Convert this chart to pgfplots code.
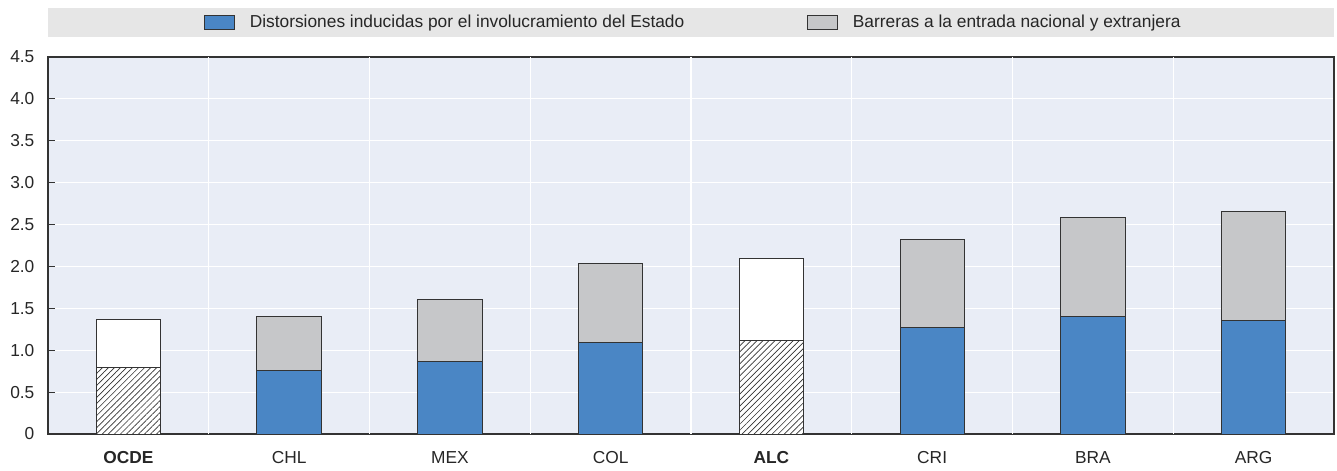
\documentclass[border=0pt]{standalone}
\usepackage{fontspec}
\setmainfont{Liberation Sans}
\usepackage{pgfplots}
\pgfplotsset{compat=1.18}
\usetikzlibrary{patterns,patterns.meta}
\definecolor{oblue}{HTML}{4A86C5}
\definecolor{ogray}{HTML}{C6C7C9}
\definecolor{bgcol}{HTML}{E9EDF6}
\definecolor{legbg}{HTML}{E6E6E6}
\definecolor{edge}{HTML}{333333}
\begin{document}
\begin{tikzpicture}
\begin{axis}[
  scale only axis,
  width=964.5pt, height=282.75pt,
  xmin=-0.5, xmax=7.5,
  ymin=0, ymax=4.5,
  clip=false,
  axis background/.style={fill=bgcol},
  axis line style={draw=edge, line width=1pt},
  xtick={0,1,2,3,4,5,6,7},
  xticklabels={\bfseries OCDE,CHL,MEX,COL,\bfseries ALC,CRI,BRA,ARG},
  x tick style={draw=none},
  extra x ticks={0.5,1.5,2.5,3.5,4.5,5.5,6.5},
  extra x tick labels={},
  extra x tick style={grid=major, major grid style={white, line width=0.9pt}, tick style={draw=edge, line width=0.8pt}, major tick length=5pt},
  xtick pos=bottom,
  ytick pos=left,
  tick align=inside,
  ytick={0,0.5,1,1.5,2,2.5,3,3.5,4,4.5},
  yticklabels={0,0.5,1.0,1.5,2.0,2.5,3.0,3.5,4.0,4.5},
  y tick style={draw=edge, line width=0.8pt},
  major tick length=5pt,
  ymajorgrids,
  major grid style={white, line width=0.9pt},
  tick label style={font=\fontsize{13}{15}\selectfont, text=black!85},
  yticklabel style={inner sep=0pt, anchor=east, xshift=-10pt},
  xticklabel style={inner sep=0pt, anchor=north, yshift=-13pt},
  legend style={draw=none, fill=none, at={(0.502,1.0915)}, anchor=center,
    font=\fontsize{13}{15}\selectfont, text=black!85,
    legend columns=2,
    /tikz/every even column/.append style={column sep=90pt}},
  legend image code/.code={\draw[#1] (0pt,-5.25pt) rectangle (22.5pt,5.25pt); \path[draw=none,fill=none] (0pt,0pt) -- (32pt,0pt);},
]
\fill[legbg] (rel axis cs:0,1.053) rectangle (rel axis cs:1,1.130);
\path (rel axis cs:-0.0373,-0.0955) rectangle (rel axis cs:1.0023,1.1512);
\addlegendimage{fill=oblue, draw=edge, line width=0.75pt}
\addlegendentry{Distorsiones inducidas por el involucramiento del Estado}
\addlegendimage{fill=ogray, draw=edge, line width=0.75pt}
\addlegendentry{Barreras a la entrada nacional y extranjera}
\addplot[ybar, bar width=0.4, bar shift=0, fill=ogray, draw=edge, line width=0.75pt, forget plot]
  coordinates {(1,1.40) (2,1.60) (3,2.04) (5,2.32) (6,2.58) (7,2.65)};
\addplot[ybar, bar width=0.4, bar shift=0, fill=white, draw=edge, line width=0.75pt, forget plot]
  coordinates {(0,1.37) (4,2.10)};
\addplot[ybar, bar width=0.4, bar shift=0, fill=oblue, draw=edge, line width=0.75pt, forget plot]
  coordinates {(1,0.76) (2,0.87) (3,1.09) (5,1.27) (6,1.40) (7,1.35)};
\addplot[ybar, bar width=0.4, bar shift=0, fill=white, draw=edge, line width=0.75pt, forget plot,
  postaction={pattern={Lines[angle=45, distance=3.2pt, line width=0.5pt]}, pattern color=edge}]
  coordinates {(0,0.79) (4,1.12)};
\end{axis}
\end{tikzpicture}
\end{document}
